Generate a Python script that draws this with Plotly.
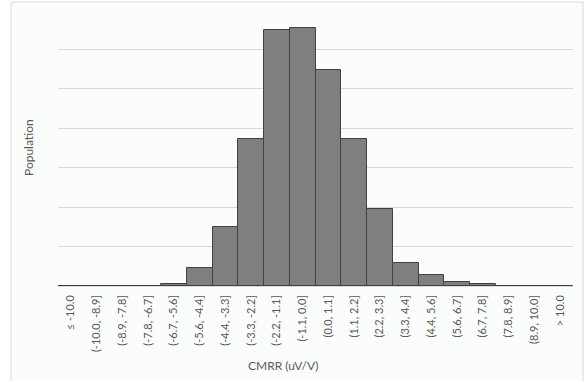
import plotly.graph_objects as go

categories = ["≤ -10.0", "(-10.0, -8.9]", "(-8.9, -7.8]", "(-7.8, -6.7]", "(-6.7, -5.6]",
              "(-5.6, -4.4]", "(-4.4, -3.3]", "(-3.3, -2.2]", "(-2.2, -1.1]", "(-1.1, 0.0]",
              "(0.0, 1.1]", "(1.1, 2.2]", "(2.2, 3.3]", "(3.3, 4.4]", "(4.4, 5.6]",
              "(5.6, 6.7]", "(6.7, 7.8]", "(7.8, 8.9]", "(8.9, 10.0]", "> 10.0"]
population = [0, 0, 0, 0, 4, 45, 150, 374, 649, 654, 548, 374, 195, 59, 28, 10, 6, 0, 0, 0]

W, H = 584, 381
L, R, T, B = 58, 11, 9.5, 94.5

fig = go.Figure(go.Bar(
    x=categories, y=population,
    marker=dict(color="#7f7f7f", line=dict(color="#404040", width=1)),
    width=1.0,
))

def px_x(p):
    return (p - L) / (W - L - R)

def px_y(p):
    return (H - B - p) / (H - T - B)

fig.update_layout(
    width=W, height=H,
    margin=dict(l=L, r=R, t=T, b=B, pad=0),
    paper_bgcolor="white",
    plot_bgcolor="rgba(0,0,0,0)",
    bargap=0,
    showlegend=False,
    font=dict(family="Lato", color="#595959", size=11),
    shapes=[dict(type="rect", xref="paper", yref="paper",
                 x0=px_x(11), x1=px_x(583), y0=px_y(400), y1=px_y(1.5),
                 fillcolor="#fbfcfc", line=dict(color="#d9d9d9", width=1),
                 layer="below")],
    annotations=[
        dict(text="CMRR (uV/V)", xref="paper", yref="paper", x=px_x(283), y=px_y(366),
             showarrow=False, font=dict(size=12, color="#595959"), xanchor="center", yanchor="middle"),
        dict(text="Population", xref="paper", yref="paper", x=px_x(28), y=px_y(148),
             showarrow=False, textangle=-90, font=dict(size=12, color="#595959"),
             xanchor="center", yanchor="middle"),
    ],
)
fig.update_xaxes(tickangle=-90, showgrid=False, showline=False, ticks="",
                 tickfont=dict(size=11, color="#595959"), ticklabelstandoff=6)
fig.update_yaxes(range=[0, 700], dtick=100, showgrid=True, gridcolor="#d9d9d9", gridwidth=1,
                 showticklabels=False, zeroline=True, zerolinecolor="#d9d9d9", zerolinewidth=1,
                 ticks="")

fig.write_html("out.html")
